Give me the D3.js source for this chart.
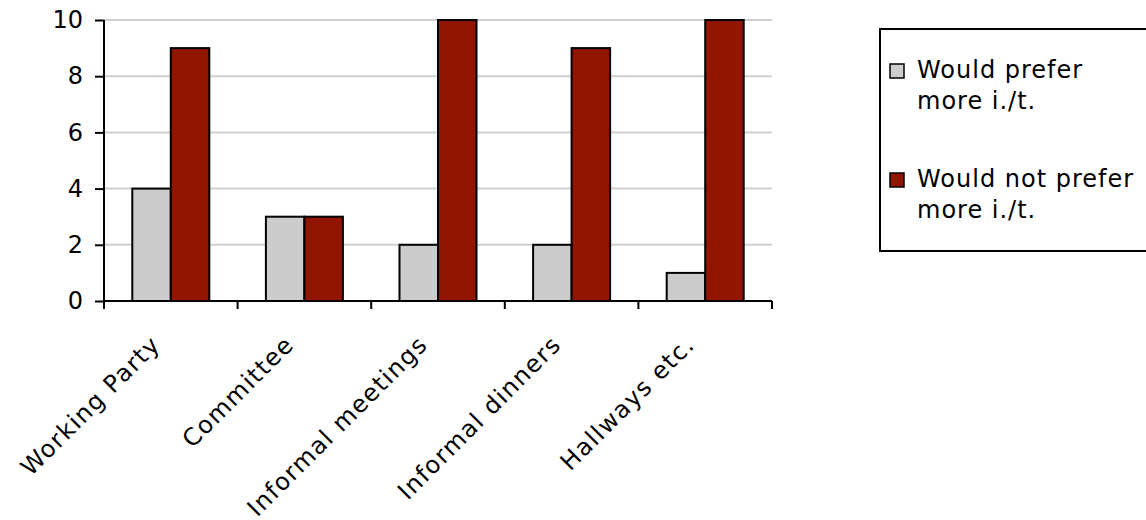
<!DOCTYPE html>
<html>
<head>
<meta charset="utf-8">
<script src="https://cdn.jsdelivr.net/npm/d3@7"></script>
<style>
  html, body { margin: 0; padding: 0; background: #fff; }
  svg { display: block; }
  text { font-family: "DejaVu Sans", Verdana, sans-serif; fill: #000; }
</style>
</head>
<body>
<svg id="chart" width="1146" height="520"></svg>
<script>
// Survey responses per meeting setting
const categories = ["Working Party", "Committee", "Informal meetings", "Informal dinners", "Hallways etc."];
const seriesNames = ["Would prefer more i./t.", "Would not prefer more i./t."];
const legendLines = [["Would prefer", "more i./t."], ["Would not prefer", "more i./t."]];
const preferMore = [4, 3, 2, 2, 1];
const notPreferMore = [9, 3, 10, 9, 10];
const yTicks = [0, 2, 4, 6, 8, 10];
const colors = ["#cccccc", "#921500"];

const seriesValues = [preferMore, notPreferMore];

const svg = d3.select("#chart");
const plot = { left: 104, top: 20, right: 772, bottom: 301 };

const x0 = d3.scaleBand()
  .domain(categories)
  .range([plot.left, plot.right])
  .paddingInner(0)
  .paddingOuter(0);

const x1 = d3.scaleBand()
  .domain(seriesNames)
  .range([0, x0.bandwidth()])
  .paddingInner(0)
  .paddingOuter(0.735);

const y = d3.scaleLinear()
  .domain([0, 10])
  .range([plot.bottom, plot.top]);

// horizontal gridlines
svg.append("g")
  .selectAll("line")
  .data(yTicks.filter(t => t > 0))
  .join("line")
  .attr("x1", plot.left)
  .attr("x2", plot.right)
  .attr("y1", d => y(d))
  .attr("y2", d => y(d))
  .attr("stroke", "#cfcfcf")
  .attr("stroke-width", 2);

// bars
const rows = categories.map((c, i) => ({
  category: c,
  values: seriesNames.map((s, j) => ({ series: s, idx: j, value: seriesValues[j][i] }))
}));

svg.append("g")
  .selectAll("g")
  .data(rows)
  .join("g")
  .attr("transform", d => `translate(${x0(d.category)},0)`)
  .selectAll("rect")
  .data(d => d.values)
  .join("rect")
  .attr("x", d => x1(d.series))
  .attr("width", x1.bandwidth())
  .attr("y", d => y(d.value))
  .attr("height", d => y(0) - y(d.value))
  .attr("fill", d => colors[d.idx])
  .attr("stroke", "#000")
  .attr("stroke-width", 2);

// y axis
const yAxis = d3.axisLeft(y)
  .tickValues(yTicks)
  .tickFormat(d3.format("d"))
  .tickSize(9)
  .tickPadding(12);

const yg = svg.append("g")
  .attr("transform", `translate(${plot.left},0)`)
  .call(yAxis);
yg.select(".domain").attr("stroke", "#000").attr("stroke-width", 2)
  .attr("d", `M0,${plot.bottom + 1}V${plot.top}`);
yg.selectAll(".tick line").attr("stroke", "#000").attr("stroke-width", 2);
yg.selectAll(".tick text")
  .style("font-size", "24px")
  .style("font-family", "'DejaVu Sans', Verdana, sans-serif")
  .attr("fill", "#000");

// x axis: baseline with ticks at category boundaries
const xg = svg.append("g");
xg.append("line")
  .attr("x1", plot.left)
  .attr("x2", plot.right)
  .attr("y1", plot.bottom)
  .attr("y2", plot.bottom)
  .attr("stroke", "#000")
  .attr("stroke-width", 2);

const boundaries = categories.map(c => x0(c)).concat([x0(categories[categories.length - 1]) + x0.bandwidth()]);
xg.selectAll("line.tick")
  .data(boundaries)
  .join("line")
  .attr("class", "tick")
  .attr("x1", d => d)
  .attr("x2", d => d)
  .attr("y1", plot.bottom)
  .attr("y2", plot.bottom + 8)
  .attr("stroke", "#000")
  .attr("stroke-width", 2);

// rotated category labels
xg.selectAll("text")
  .data(categories)
  .join("text")
  .attr("transform", d => `translate(${x0(d) + x0.bandwidth() / 2 - 9},346) rotate(-45)`)
  .attr("text-anchor", "end")
  .style("font-size", "24px")
  .style("letter-spacing", "1.4px")
  .text(d => d);

// legend
const legend = svg.append("g");
legend.append("rect")
  .attr("x", 880)
  .attr("y", 29)
  .attr("width", 300)
  .attr("height", 222)
  .attr("fill", "#fff")
  .attr("stroke", "#000")
  .attr("stroke-width", 2);

const legendRowY = [78, 187];
const item = legend.selectAll("g.item")
  .data(seriesNames)
  .join("g")
  .attr("class", "item")
  .attr("transform", (d, i) => `translate(0,${legendRowY[i]})`);

item.append("rect")
  .attr("x", 890)
  .attr("y", -14)
  .attr("width", 14)
  .attr("height", 14)
  .attr("fill", (d, i) => colors[i])
  .attr("stroke", "#000")
  .attr("stroke-width", 1.5);

item.append("text")
  .attr("x", 917)
  .attr("y", 0)
  .style("font-size", "24px")
  .style("letter-spacing", "1px")
  .selectAll("tspan")
  .data((d, i) => legendLines[i])
  .join("tspan")
  .attr("x", 917)
  .attr("dy", (d, k) => k === 0 ? 0 : 31)
  .text(d => d);
</script>
</body>
</html>
